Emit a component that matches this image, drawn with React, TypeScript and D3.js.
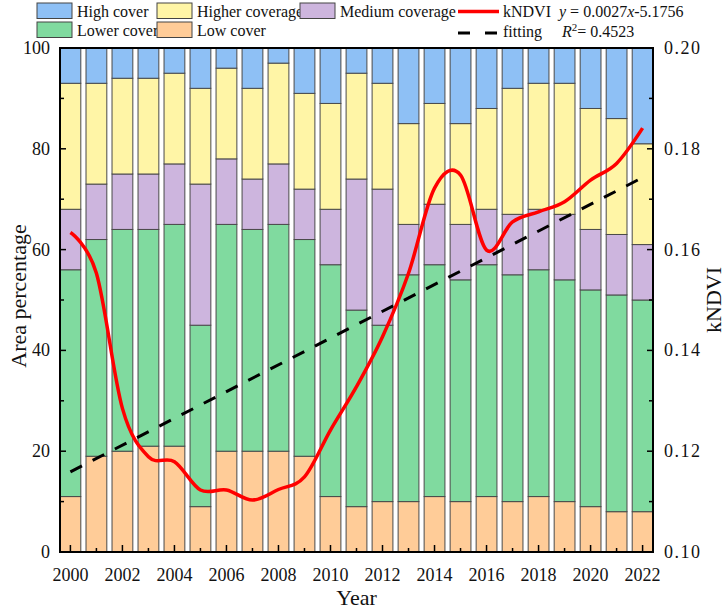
import React, { useRef, useEffect } from 'react';
import * as d3 from 'd3';

// stacked area shares (%) per year, bottom to top
const years = [
  2000, 2001, 2002, 2003, 2004, 2005, 2006, 2007, 2008, 2009, 2010, 2011,
  2012, 2013, 2014, 2015, 2016, 2017, 2018, 2019, 2020, 2021, 2022,
];
const lowCover = [11, 19, 20, 21, 21, 9, 20, 20, 20, 19, 11, 9, 10, 10, 11, 10, 11, 10, 11, 10, 9, 8, 8];
const lowerCover = [45, 43, 44, 43, 44, 36, 45, 44, 45, 43, 46, 39, 35, 45, 46, 44, 46, 45, 45, 44, 43, 43, 42];
const mediumCoverage = [12, 11, 11, 11, 12, 28, 13, 10, 12, 10, 11, 26, 27, 10, 12, 11, 11, 12, 12, 13, 12, 12, 11];
const higherCoverage = [25, 20, 19, 19, 18, 19, 18, 18, 20, 19, 21, 21, 21, 20, 20, 20, 20, 25, 25, 26, 24, 23, 20];
const highCover = [7, 7, 6, 6, 5, 8, 4, 8, 3, 9, 11, 5, 7, 15, 11, 15, 12, 8, 7, 7, 12, 14, 19];

// kNDVI (right axis)
const kndvi = [
  0.1634, 0.1553, 0.1285, 0.1189, 0.1179, 0.1123, 0.1123, 0.1103, 0.1124, 0.1149, 0.1242, 0.1328,
  0.1427, 0.1553, 0.1722, 0.1748, 0.1599, 0.1655, 0.1675, 0.1695, 0.1738, 0.1771, 0.1841,
];

// linear fit endpoints
const fitYears = [2000, 2022];
const fitValues = [0.1159, 0.1743];

const areaTicks = [0, 20, 40, 60, 80, 100];
const areaMinorTicks = [10, 30, 50, 70, 90];
const kndviTicks = [0.1, 0.12, 0.14, 0.16, 0.18, 0.2];
const kndviMinorTicks = [0.11, 0.13, 0.15, 0.17, 0.19];

const seriesKeys = ['Low cover', 'Lower cover', 'Medium coverage', 'Higher coverage', 'High cover'];
const seriesValues = [lowCover, lowerCover, mediumCoverage, higherCoverage, highCover];
const seriesColors: Record<string, string> = {
  'High cover': '#8ec0f5',
  'Higher coverage': '#fff5a6',
  'Medium coverage': '#cdb5de',
  'Lower cover': '#80da9f',
  'Low cover': '#ffcc98',
};

const WIDTH = 726;
const HEIGHT = 612;
const FONT = '"Liberation Serif", "Times New Roman", serif';

const App: React.FC = () => {
  const svgRef = useRef<SVGSVGElement>(null);

  useEffect(() => {
    const svg = d3.select(svgRef.current);
    svg.selectAll('*').remove();

    const margin = { top: 48, right: 73, bottom: 60, left: 60 };
    const plotRight = WIDTH - margin.right;
    const plotBottom = HEIGHT - margin.bottom;

    const x = d3.scaleBand<number>().domain(years).range([margin.left, plotRight]).paddingInner(0.2).paddingOuter(0);
    const bw = x.bandwidth();
    const cx = (yr: number) => (x(yr) as number) + bw / 2;
    const y = d3.scaleLinear().domain([0, 100]).range([plotBottom, margin.top]);
    const y2 = d3.scaleLinear().domain([0.1, 0.2]).range([plotBottom, margin.top]);

    // Stacked bars
    const rows = years.map((yr, i) => {
      const r: Record<string, number> = { year: yr };
      seriesKeys.forEach((k, j) => (r[k] = seriesValues[j][i]));
      return r;
    });
    const stacked = d3.stack<Record<string, number>>().keys(seriesKeys)(rows);

    stacked.forEach(layer => {
      svg
        .append('g')
        .selectAll('rect')
        .data(layer)
        .enter()
        .append('rect')
        .attr('x', d => x(d.data.year) as number)
        .attr('y', d => y(d[1]))
        .attr('width', bw)
        .attr('height', d => y(d[0]) - y(d[1]))
        .attr('fill', seriesColors[layer.key])
        .attr('stroke', '#4a4a4a')
        .attr('stroke-width', 1);
    });

    // Fitting line
    const fitLine = d3
      .line<number>()
      .x((_, i) => cx(fitYears[i]))
      .y(d => y2(d));
    svg
      .append('path')
      .attr('d', fitLine(fitValues))
      .attr('fill', 'none')
      .attr('stroke', '#000')
      .attr('stroke-width', 3)
      .attr('stroke-dasharray', '13,12');

    // kNDVI curve
    const kLine = d3
      .line<number>()
      .x((_, i) => cx(years[i]))
      .y(d => y2(d))
      .curve(d3.curveCatmullRom.alpha(0));
    svg
      .append('path')
      .attr('d', kLine(kndvi))
      .attr('fill', 'none')
      .attr('stroke', '#ff0000')
      .attr('stroke-width', 3.5);

    // Frame
    svg
      .append('rect')
      .attr('x', margin.left)
      .attr('y', margin.top)
      .attr('width', plotRight - margin.left)
      .attr('height', plotBottom - margin.top)
      .attr('fill', 'none')
      .attr('stroke', '#000')
      .attr('stroke-width', 2);

    const axis = svg.append('g').attr('stroke', '#000').attr('stroke-width', 1.5);
    // Left ticks (inward)
    areaTicks.forEach(t =>
      axis.append('line').attr('x1', margin.left).attr('x2', margin.left + 6).attr('y1', y(t)).attr('y2', y(t))
    );
    areaMinorTicks.forEach(t =>
      axis.append('line').attr('x1', margin.left).attr('x2', margin.left + 4).attr('y1', y(t)).attr('y2', y(t))
    );
    // Right ticks
    kndviTicks.forEach(t =>
      axis.append('line').attr('x1', plotRight).attr('x2', plotRight - 6).attr('y1', y2(t)).attr('y2', y2(t))
    );
    kndviMinorTicks.forEach(t =>
      axis.append('line').attr('x1', plotRight).attr('x2', plotRight - 4).attr('y1', y2(t)).attr('y2', y2(t))
    );
    // Bottom ticks
    years.forEach(yr =>
      axis
        .append('line')
        .attr('x1', cx(yr))
        .attr('x2', cx(yr))
        .attr('y1', plotBottom)
        .attr('y2', plotBottom - (yr % 2 === 0 ? 7 : 4))
    );

    const labels = svg.append('g').attr('font-family', FONT).attr('fill', '#111');
    areaTicks.forEach(t =>
      labels
        .append('text')
        .attr('x', margin.left - 10)
        .attr('y', y(t) + 6)
        .attr('text-anchor', 'end')
        .attr('font-size', 18)
        .text(d3.format('d')(t))
    );
    kndviTicks.forEach(t =>
      labels
        .append('text')
        .attr('x', plotRight + 11)
        .attr('y', y2(t) + 6)
        .attr('font-size', 18)
        .attr('letter-spacing', 1.5)
        .text(d3.format('.2f')(t))
    );
    years
      .filter(yr => yr % 2 === 0)
      .forEach(yr =>
        labels
          .append('text')
          .attr('x', cx(yr))
          .attr('y', plotBottom + 29)
          .attr('text-anchor', 'middle')
          .attr('font-size', 18)
          .text(yr)
      );

    // Axis titles
    labels
      .append('text')
      .attr('x', (margin.left + plotRight) / 2)
      .attr('y', 605)
      .attr('text-anchor', 'middle')
      .attr('font-size', 22)
      .text('Year');
    labels
      .append('text')
      .attr('transform', `translate(26,${(margin.top + plotBottom) / 2 - 4}) rotate(-90)`)
      .attr('text-anchor', 'middle')
      .attr('font-size', 22)
      .text('Area percentage');
    labels
      .append('text')
      .attr('transform', `translate(721,${(margin.top + plotBottom) / 2}) rotate(-90)`)
      .attr('text-anchor', 'middle')
      .attr('font-size', 22)
      .text('kNDVI');

    // Legend
    const legend = svg.append('g').attr('font-family', FONT).attr('font-size', 16).attr('fill', '#111');
    const swatches = [
      { key: 'High cover', col: 0, row: 0 },
      { key: 'Higher coverage', col: 1, row: 0 },
      { key: 'Medium coverage', col: 2, row: 0 },
      { key: 'Lower cover', col: 0, row: 1 },
      { key: 'Low cover', col: 1, row: 1 },
    ];
    const colX = [37, 157, 300];
    swatches.forEach(s => {
      const sx = colX[s.col];
      const sy = 3 + s.row * 19;
      legend
        .append('rect')
        .attr('x', sx)
        .attr('y', sy)
        .attr('width', 35)
        .attr('height', 15.5)
        .attr('fill', seriesColors[s.key])
        .attr('stroke', '#444')
        .attr('stroke-width', 1);
      legend
        .append('text')
        .attr('x', sx + 40)
        .attr('y', sy + 13.5)
        .text(s.key);
    });

    legend
      .append('line')
      .attr('x1', 458)
      .attr('x2', 499)
      .attr('y1', 11.5)
      .attr('y2', 11.5)
      .attr('stroke', '#ff0000')
      .attr('stroke-width', 3.5);
    legend.append('text').attr('x', 503).attr('y', 17).text('kNDVI');
    legend
      .append('line')
      .attr('x1', 458)
      .attr('x2', 499)
      .attr('y1', 33)
      .attr('y2', 33)
      .attr('stroke', '#000')
      .attr('stroke-width', 3)
      .attr('stroke-dasharray', '12,15');
    legend.append('text').attr('x', 503).attr('y', 37).text('fitting');

    const eq = legend.append('text').attr('x', 559).attr('y', 17);
    eq.append('tspan').attr('font-style', 'italic').text('y');
    eq.append('tspan').text(' = 0.0027');
    eq.append('tspan').attr('font-style', 'italic').text('x');
    eq.append('tspan').text('-5.1756');

    const r2 = legend.append('text').attr('x', 562).attr('y', 37);
    r2.append('tspan').attr('font-style', 'italic').text('R');
    r2.append('tspan').attr('font-size', 11).attr('dy', -6).text('2');
    r2.append('tspan').attr('dy', 6).text('= 0.4523');
  }, []);

  return (
    <svg
      ref={svgRef}
      width={WIDTH}
      height={HEIGHT}
      style={{ position: 'absolute', left: 0, top: 0, background: '#fff' }}
    />
  );
};

export default App;
